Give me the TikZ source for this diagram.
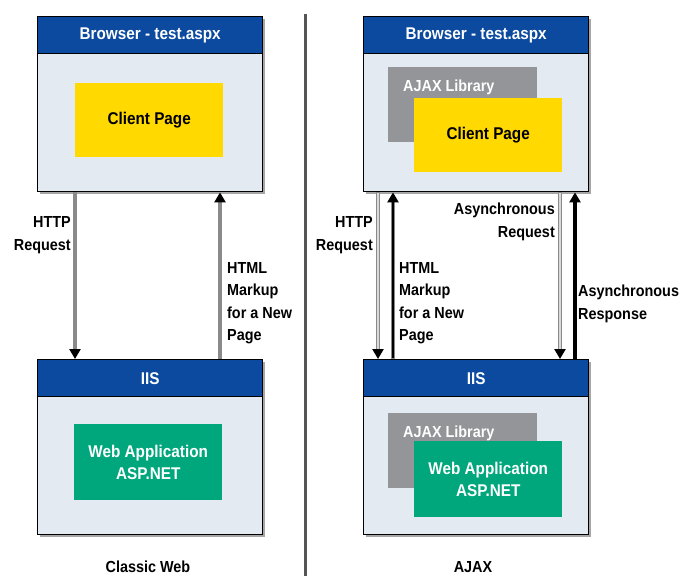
\documentclass[tikz,border=0pt]{standalone}
\usepackage{fontspec}
\setmainfont[FakeStretch=0.9]{Liberation Sans}
\usetikzlibrary{arrows.meta,positioning,calc,shadows}
\definecolor{HeadBlue}{HTML}{0B4A9E}
\definecolor{PaneFill}{HTML}{E4EAF1}
\definecolor{PageYellow}{HTML}{FFD900}
\definecolor{AppGreen}{HTML}{00A67C}
\definecolor{LibGray}{HTML}{939598}
\definecolor{Shaft}{HTML}{8A8A8A}
\definecolor{Rule}{HTML}{555555}

\begin{document}
\begin{tikzpicture}[x=1pt,y=-1pt,
  pane/.style={draw=black,line width=1.4pt,fill=PaneFill,anchor=north west,inner sep=0pt,
    minimum width=225pt,minimum height=175pt,
    drop shadow={shadow xshift=2.2pt,shadow yshift=-2.2pt,fill=gray!70,opacity=1}},
  head/.style={draw=black,line width=1.4pt,fill=HeadBlue,text=white,anchor=north west,
    minimum width=225pt,minimum height=37pt,font=\fontsize{17}{20}\selectfont\bfseries},
  page/.style={fill=PageYellow,anchor=north west,minimum width=148pt,minimum height=74pt,
    font=\fontsize{17}{20}\selectfont\bfseries},
  app/.style={fill=AppGreen,text=white,anchor=north west,align=center,minimum width=148pt,
    minimum height=76pt,font=\fontsize{17}{22}\selectfont\bfseries},
  lib/.style={fill=LibGray,anchor=north west,minimum width=149pt,minimum height=75pt},
  libtext/.style={text=white,inner sep=0pt,font=\fontsize{16}{19}\selectfont\bfseries},
  lbl/.style={inner sep=0pt,font=\fontsize{16}{22.5}\selectfont\bfseries},
  tip/.style={-{Triangle[color=black,width=11pt,length=10pt]}},
  flow/.style={tip,draw=Shaft,line width=3.6pt},
  flowlight/.style={tip,draw=Shaft,line width=4.4pt,
    postaction={draw=gray!30,line width=1.6pt,-,shorten >=10pt,shorten <=0.8pt}},
  flowdark/.style={tip,draw=Shaft,line width=4.4pt,
    postaction={draw=black,line width=2.2pt,-,shorten >=9pt,shorten <=0.8pt}},
  flowblack/.style={tip,draw=black,line width=3.2pt}]
  \useasboundingbox (0,0) rectangle (681,576);

  % divider
  \draw[Rule,line width=3pt] (305,14) -- (305,576);

  % classic web
  \node[pane] (brL) at (37,16) {};
  \node[head] (brLh) at (brL.north west) {Browser - test.aspx};
  \node[page] (cpL) at (75,83) {Client Page};
  \node[pane] (iisL) at (37,359) {};
  \node[head] (iisLh) at (iisL.north west) {IIS};
  \node[app] (appL) at (74,424) {Web Application\\ASP.NET};
  \node[lbl] (capL) at (148,567) {Classic Web};

  % ajax
  \node[pane] (brR) at (363,16) {};
  \node[head] (brRh) at (brR.north west) {Browser - test.aspx};
  \node[lib] (libT) at (388,67) {};
  \node[libtext,below right=13pt and 15pt of libT.north west] (libTt) {AJAX Library};
  \node[page] (cpR) at (414,98) {Client Page};
  \node[pane] (iisR) at (363,359) {};
  \node[head] (iisRh) at (iisR.north west) {IIS};
  \node[lib] (libB) at (388,413) {};
  \node[libtext,below right=13pt and 15pt of libB.north west] (libBt) {AJAX Library};
  \node[app] (appR) at (414,441) {Web Application\\ASP.NET};
  \node[lbl] (capR) at (473,567) {AJAX};

  % connectors
  \coordinate (reqL) at ($(brL.south west)+(38,0)$);
  \coordinate (repL) at ($(brL.south west)+(183,0)$);
  \coordinate (reqR) at ($(brR.south west)+(15,0)$);
  \coordinate (repR) at ($(brR.south west)+(30,0)$);
  \coordinate (areq) at ($(brR.south west)+(197,0)$);
  \coordinate (arep) at ($(brR.south west)+(212,0)$);
  \draw[flow] (reqL) -- (reqL |- iisL.north);
  \draw[flow] (repL |- iisL.north) -- (repL);
  \draw[flowlight] (reqR) -- (reqR |- iisR.north);
  \draw[flowdark] (repR |- iisR.north) -- (repR);
  \draw[flowlight] (areq) -- (areq |- iisR.north);
  \draw[flowblack] (arep |- iisR.north) -- (arep);

  \node[lbl,anchor=east,align=right] (reqLt) at (71,235) {HTTP\\Request};
  \node[lbl,anchor=west,align=left] (repLt) at (227,303) {HTML\\Markup\\for a New\\Page};
  \node[lbl,anchor=east,align=right] (reqRt) at (373,235) {HTTP\\Request};
  \node[lbl,anchor=west,align=left] (repRt) at (399,303) {HTML\\Markup\\for a New\\Page};
  \node[lbl,anchor=east,align=right] (areqt) at (555,222) {Asynchronous\\Request};
  \node[lbl,anchor=west,align=left] (arept) at (578,304) {Asynchronous\\Response};
\end{tikzpicture}
\end{document}
